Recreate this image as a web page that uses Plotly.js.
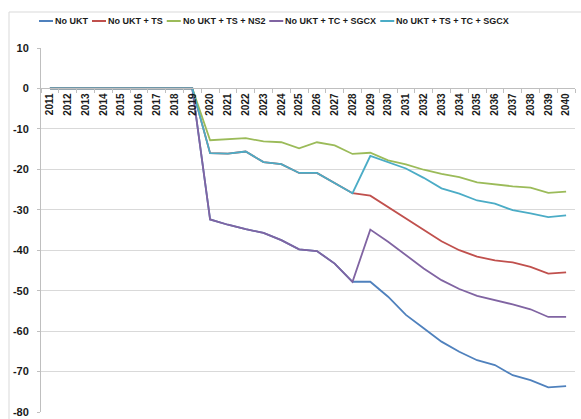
<!DOCTYPE html>
<html>
<head>
<meta charset="utf-8">
<script src="https://cdn.plot.ly/plotly-3.0.1.min.js"></script>
<style>html,body{margin:0;padding:0;background:#fff;}#chart{width:581px;height:419px;}</style>
</head>
<body>
<div id="chart"></div>
<script>
var years = ['2011','2012','2013','2014','2015','2016','2017','2018','2019','2020','2021','2022','2023','2024','2025','2026','2027','2028','2029','2030','2031','2032','2033','2034','2035','2036','2037','2038','2039','2040'];
var seriesNames = ['No UKT', 'No UKT + TS', 'No UKT + TS + NS2', 'No UKT + TC + SGCX', 'No UKT + TS + TC + SGCX'];
var seriesColors = ['#4F81BD', '#C0504D', '#9BBB59', '#8064A2', '#4BACC6'];

var noUKT = [0,0,0,0,0,0,0,0,0, -32.4,-33.7,-34.8,-35.7,-37.5,-39.8,-40.2,-43.3,-47.8,-47.8,-51.5,-56.0,-59.3,-62.6,-65.1,-67.2,-68.4,-70.9,-72.1,-73.9,-73.6];
var noUKT_TS = [0,0,0,0,0,0,0,0,0, -16.0,-16.1,-15.6,-18.2,-18.7,-20.9,-20.9,-23.5,-25.9,-26.5,-29.3,-32.1,-35.1,-37.8,-40.0,-41.6,-42.5,-43.0,-44.1,-45.8,-45.5];
var noUKT_TS_NS2 = [0,0,0,0,0,0,0,0,0, -12.8,-12.5,-12.3,-13.1,-13.3,-14.8,-13.3,-14.1,-16.2,-15.9,-17.8,-18.8,-20.1,-21.1,-21.9,-23.2,-23.7,-24.2,-24.5,-25.8,-25.5];
var noUKT_TC_SGCX = [0,0,0,0,0,0,0,0,0, -32.4,-33.7,-34.8,-35.7,-37.5,-39.8,-40.2,-43.3,-47.8,-34.9,-37.9,-41.1,-44.5,-47.4,-49.6,-51.3,-52.3,-53.4,-54.6,-56.5,-56.5];
var noUKT_TS_TC_SGCX = [0,0,0,0,0,0,0,0,0, -16.0,-16.1,-15.6,-18.2,-18.7,-20.9,-20.9,-23.5,-25.9,-16.7,-18.2,-19.8,-22.1,-24.7,-26.0,-27.7,-28.5,-30.1,-30.9,-31.8,-31.4];
var yTicks = [10, 0, -10, -20, -30, -40, -50, -60, -70, -80];

var allSeries = [noUKT, noUKT_TS, noUKT_TS_NS2, noUKT_TC_SGCX, noUKT_TS_TC_SGCX];
var traces = allSeries.map(function (vals, i) {
  return {
    type: 'scatter', mode: 'lines', x: years, y: vals, name: seriesNames[i],
    line: {color: seriesColors[i], width: 1.8}, showlegend: false, hoverinfo: 'skip'
  };
});

var W = 581, H = 419;
var mL = 41, mR = 6, mT = 48, mB = 7;
var pw = W - mL - mR, ph = H - mT - mB;
function px2x(p) { return (p - mL) / pw; }
function px2y(p) { return (H - mB - p) / ph; }

var FONT = '"Liberation Sans", Arial, sans-serif';
var legFontSize = 9;
var cv = document.createElement('canvas').getContext('2d');
cv.font = 'bold ' + legFontSize + 'px "Liberation Sans", Arial, sans-serif';

var shapes = [];
var annotations = [];
// chart border
shapes.push({type: 'rect', xref: 'paper', yref: 'paper', x0: px2x(9), x1: px2x(W + 20), y0: px2y(H + 20), y1: px2y(12),
  line: {color: '#D9D9D9', width: 1}, fillcolor: 'rgba(0,0,0,0)', layer: 'below'});

// custom legend
var lx = 39, ly = 21;
seriesNames.forEach(function (nm, i) {
  shapes.push({type: 'line', xref: 'paper', yref: 'paper', x0: px2x(lx), x1: px2x(lx + 14), y0: px2y(ly), y1: px2y(ly),
    line: {color: seriesColors[i], width: 2}});
  var tx = lx + 15;
  annotations.push({xref: 'paper', yref: 'paper', x: px2x(tx), y: px2y(ly), xanchor: 'left', yanchor: 'middle',
    text: '<b>' + nm + '</b>', showarrow: false, font: {family: FONT, size: legFontSize, color: '#1a1a1a'}, borderpad: 0});
  lx = tx + cv.measureText(nm).width + 5;
});

var layout = {
  width: W, height: H,
  margin: {l: mL, r: mR, t: mT, b: mB, pad: 0},
  paper_bgcolor: '#ffffff', plot_bgcolor: '#ffffff',
  showlegend: false,
  font: {family: FONT, color: '#1a1a1a'},
  xaxis: {
    type: 'category', anchor: 'free', position: 80 / 90,
    showline: true, linecolor: '#BFBFBF', linewidth: 1,
    showgrid: false, zeroline: false,
    ticks: 'outside', tickson: 'boundaries', ticklen: 4, tickcolor: '#BFBFBF',
    tickangle: -90, tickfont: {family: FONT, size: 10, color: '#1a1a1a', weight: 'bold'},
    range: [-0.5, years.length - 0.5], fixedrange: true
  },
  yaxis: {
    range: [-80, 10], tickvals: yTicks, ticktext: yTicks.map(String),
    showline: true, linecolor: '#BFBFBF', linewidth: 1,
    showgrid: true, gridcolor: '#D9D9D9', gridwidth: 1, zeroline: false,
    ticks: 'outside', ticklen: 3, tickcolor: '#BFBFBF',
    tickfont: {family: FONT, size: 11, color: '#1a1a1a', weight: 'bold'},
    ticklabelstandoff: 6, fixedrange: true
  },
  shapes: shapes,
  annotations: annotations
};

Plotly.newPlot('chart', traces, layout, {displayModeBar: false, staticPlot: true});
</script>
</body>
</html>
